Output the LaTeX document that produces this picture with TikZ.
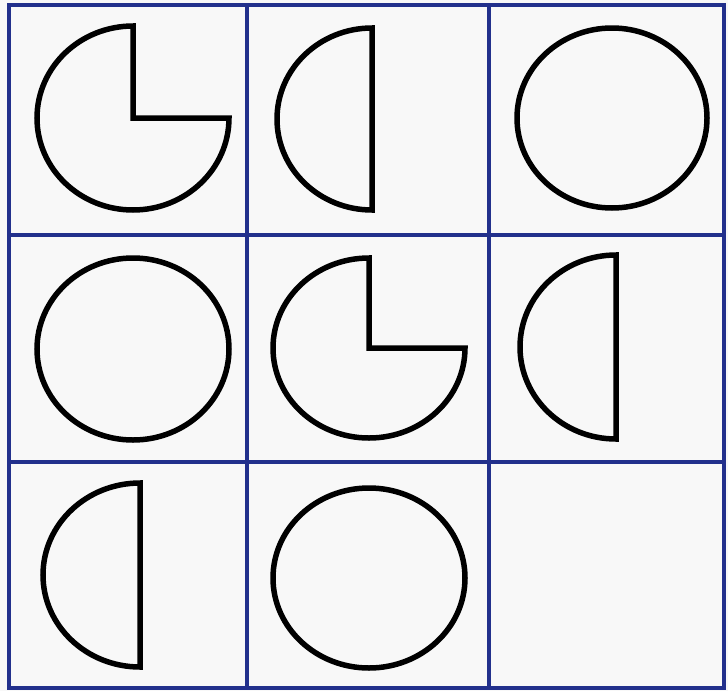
\documentclass[tikz,border=0pt]{standalone}
\usetikzlibrary{calc}
\definecolor{gridblue}{HTML}{22308C}
\definecolor{paper}{HTML}{F8F8F8}
\tikzset{
  gridline/.style={draw=gridblue,line width=3.5pt},
  figline/.style={draw=black,line width=5.5pt,fill=paper,line join=miter},
}
\begin{document}
\begin{tikzpicture}[x=1pt,y=-1pt]
\useasboundingbox (0,0) rectangle (728,691);
\fill[paper] (0,0) rectangle (728,691);
% grid
\draw[gridline] (9,5) rectangle (724,688);
\draw[gridline] (247,5) -- (247,688);
\draw[gridline] (489,5) -- (489,688);
\draw[gridline] (9,235) -- (724,235);
\draw[gridline] (9,462) -- (724,462);
% row 1
\draw[figline] (133,118) -- (133,26) arc[start angle=-90,end angle=-360,x radius=96,y radius=92] -- cycle;
\draw[figline] (372,28) arc[start angle=-90,end angle=-270,x radius=95,y radius=91] -- cycle;
\draw[figline] (612,118) ellipse[x radius=95,y radius=90];
% row 2
\draw[figline] (133,349) ellipse[x radius=96,y radius=91];
\draw[figline] (369,348) -- (369,258) arc[start angle=-90,end angle=-360,x radius=96,y radius=90] -- cycle;
\draw[figline] (616,255) arc[start angle=-90,end angle=-270,x radius=96,y radius=92] -- cycle;
% row 3
\draw[figline] (140,483) arc[start angle=-90,end angle=-270,x radius=97,y radius=92] -- cycle;
\draw[figline] (369,578) ellipse[x radius=96,y radius=90];
\end{tikzpicture}
\end{document}
